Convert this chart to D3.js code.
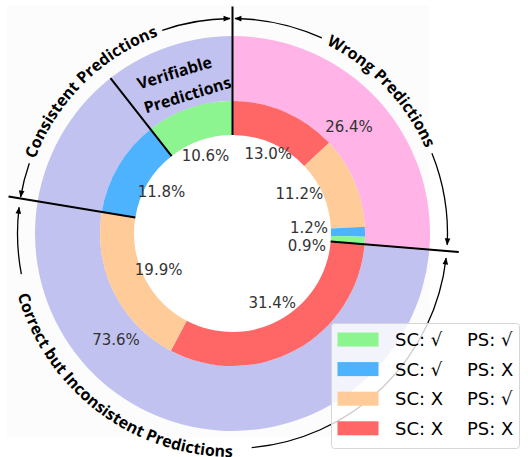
<!DOCTYPE html>
<html>
<head>
<meta charset="utf-8">
<script src="https://cdn.jsdelivr.net/npm/d3@7"></script>
<style>
  html, body { margin: 0; padding: 0; background: #ffffff; }
  svg { display: block; }
</style>
</head>
<body>
<div id="chart"></div>
<script>
// ---------------- data ----------------
const outerCategories = ["Wrong Predictions", "Correct Predictions"];
const outerValues = [26.4, 73.6];
const outerColors = ["#ffb3e6", "#c2c2f0"];

const innerCategories = ["SC: X PS: X", "SC: X PS: √", "SC: √ PS: X", "SC: √ PS: √",
                         "SC: X PS: X", "SC: X PS: √", "SC: √ PS: X", "SC: √ PS: √"];
const innerValues = [13.0, 11.2, 1.2, 0.9, 31.4, 19.9, 11.8, 10.6];

const legendLeft = ["SC: √", "SC: √", "SC: X", "SC: X"];
const legendRight = ["PS: √", "PS: X", "PS: √", "PS: X"];
const legendKeys = ["SC: √ PS: √", "SC: √ PS: X", "SC: X PS: √", "SC: X PS: X"];

const annotationTexts = ["Wrong Predictions", "Consistent Predictions", "Correct but Inconsistent Predictions"];

// ---------------- styles / layout ----------------
const W = 528, H = 457;
const cx = 232.5, cy = 233.5;
const rHole = 98.5, rMid = 132.5, rOuter = 197.5;
const rLineEnd = 227;
const rArrow = 215;

const color = d3.scaleOrdinal()
  .domain(legendKeys)
  .range(["#8cf58f", "#4db3ff", "#ffcc99", "#ff6666"]);
const outerColor = d3.scaleOrdinal().domain(outerCategories).range(outerColors);

const svg = d3.select("#chart").append("svg")
  .attr("width", W).attr("height", H)
  .attr("viewBox", `0 0 ${W} ${H}`);

const defs = svg.append("defs");
defs.append("marker")
  .attr("id", "arrow")
  .attr("viewBox", "0 0 10 10")
  .attr("refX", 9).attr("refY", 5)
  .attr("markerUnits", "userSpaceOnUse")
  .attr("markerWidth", 8).attr("markerHeight", 7)
  .attr("orient", "auto-start-reverse")
  .append("path").attr("d", "M0,1 L10,5 L0,9 Z").attr("fill", "#000");

svg.append("rect").attr("x", 7).attr("y", 5).attr("width", 423).attr("height", 432)
  .attr("fill", "#fcfcfc");

const g = svg.append("g").attr("transform", `translate(${cx},${cy})`);

const pie = d3.pie().sort(null).value(d => d).startAngle(0).endAngle(2 * Math.PI);
const outerArcs = pie(outerValues);
const innerArcs = pie(innerValues);

const arcOuter = d3.arc().innerRadius(rMid).outerRadius(rOuter);
const arcInner = d3.arc().innerRadius(rHole).outerRadius(rMid);

g.append("circle").attr("r", rHole).attr("fill", "#ffffff");

g.selectAll("path.outer").data(outerArcs).join("path")
  .attr("class", "outer")
  .attr("d", arcOuter)
  .attr("fill", (d, i) => outerColor(outerCategories[i]));

g.selectAll("path.inner").data(innerArcs).join("path")
  .attr("class", "inner")
  .attr("d", arcInner)
  .attr("fill", (d, i) => color(innerCategories[i]));

// ---------------- percentage labels ----------------
const pt = (a, r) => [r * Math.sin(a), -r * Math.cos(a)];
const innerLabelR = 82.5, outerLabelR = 158;
const innerNudge = [[3, -4], [-9, -7], [-6, -4], [-8, 8], [0, -3], [0, 0], [0, 0], [0, 0]];
const labelFont = "'DejaVu Sans', sans-serif";

g.selectAll("text.inlab").data(innerArcs).join("text")
  .attr("class", "inlab")
  .attr("x", (d, i) => pt((d.startAngle + d.endAngle) / 2, innerLabelR)[0] + innerNudge[i][0])
  .attr("y", (d, i) => pt((d.startAngle + d.endAngle) / 2, innerLabelR)[1] + innerNudge[i][1])
  .attr("text-anchor", "middle")
  .attr("dominant-baseline", "central")
  .attr("font-family", labelFont)
  .attr("font-size", 15)
  .attr("fill", "#333")
  .text(d => d.data.toFixed(1) + "%");

g.selectAll("text.outlab").data(outerArcs).join("text")
  .attr("class", "outlab")
  .attr("x", d => pt((d.startAngle + d.endAngle) / 2, outerLabelR)[0])
  .attr("y", d => pt((d.startAngle + d.endAngle) / 2, outerLabelR)[1])
  .attr("text-anchor", "middle")
  .attr("dominant-baseline", "central")
  .attr("font-family", labelFont)
  .attr("font-size", 15)
  .attr("fill", "#333")
  .text(d => d.data.toFixed(1) + "%");

// ---------------- separator lines ----------------
const bWrongStart = innerArcs[0].startAngle;          // top
const bWrongEnd = innerArcs[3].endAngle;              // after 0.9%
const bConsStart = innerArcs[6].startAngle;           // before 11.8%
const bVerStart = innerArcs[7].startAngle;            // before 10.6%
const seps = [[bWrongStart, rLineEnd], [bWrongEnd, rLineEnd], [bConsStart, rLineEnd], [bVerStart, rOuter]];
g.selectAll("line.sep").data(seps).join("line")
  .attr("class", "sep")
  .attr("x1", d => pt(d[0], rHole)[0]).attr("y1", d => pt(d[0], rHole)[1])
  .attr("x2", d => pt(d[0], d[1])[0]).attr("y2", d => pt(d[0], d[1])[1])
  .attr("stroke", "#000").attr("stroke-width", 2);

// ---------------- annotation arcs with curved text ----------------
const deg = Math.PI / 180;
const annFont = "'Open Sans', sans-serif";
const annSize = 16;
const anns = [
  { text: annotationTexts[0], a0: bWrongStart + 0.7 * deg, a1: bWrongEnd - 1.7 * deg, mid: 46.3 * deg, flip: false, pad: 2.4 * deg },
  { text: annotationTexts[1], a0: bConsStart + 0.4 * deg, a1: 2 * Math.PI - 0.7 * deg, mid: 315 * deg, flip: false, pad: 2.2 * deg },
  { text: annotationTexts[2], a0: bWrongEnd + 1.9 * deg, a1: bConsStart - 2.4 * deg, mid: 217 * deg, flip: true, pad: 4 * deg }
];

function arcPath(a0, a1, r, ccw) {
  const p = d3.path();
  const s = pt(a0, r);
  p.moveTo(s[0], s[1]);
  p.arc(0, 0, r, a0 - Math.PI / 2, a1 - Math.PI / 2, ccw);
  return p.toString();
}

anns.forEach((a, i) => {
  const rText = a.flip ? 223.5 : 211;
  const id = "tp" + i;
  const pathD = a.flip
    ? arcPath(a.mid + Math.PI * 0.9, a.mid - Math.PI * 0.9, rText, true)
    : arcPath(a.mid - Math.PI * 0.9, a.mid + Math.PI * 0.9, rText, false);
  defs.append("path").attr("id", id).attr("d", pathD).attr("transform", `translate(${cx},${cy})`);
  const t = svg.append("text")
    .attr("font-family", annFont)
    .attr("font-weight", "bold")
    .attr("font-size", annSize)
    .attr("fill", "#000");
  t.append("textPath")
    .attr("href", "#" + id)
    .attr("startOffset", "50%")
    .attr("text-anchor", "middle")
    .text(a.text);
  const len = t.node().getComputedTextLength();
  const half = len / 2 / 217 + a.pad;
  g.append("path")
    .attr("d", arcPath(a.a0, a.mid - half, rArrow, false))
    .attr("fill", "none").attr("stroke", "#000").attr("stroke-width", 1.3)
    .attr("marker-start", "url(#arrow)");
  g.append("path")
    .attr("d", arcPath(a.mid + half, a.a1, rArrow, false))
    .attr("fill", "none").attr("stroke", "#000").attr("stroke-width", 1.3)
    .attr("marker-end", "url(#arrow)");
});

// Verifiable Predictions label
const vp = svg.append("text")
  .attr("transform", "translate(181,84) rotate(-17)")
  .attr("font-family", annFont)
  .attr("font-weight", "bold")
  .attr("font-size", annSize)
  .attr("fill", "#000")
  .attr("text-anchor", "middle");
vp.append("tspan").attr("x", -3).attr("y", -7).text("Verifiable");
vp.append("tspan").attr("x", 3).attr("y", 18).text("Predictions");

// ---------------- legend ----------------
const lg = svg.append("g").attr("transform", "translate(331,323)");
lg.append("rect").attr("x", 0.5).attr("y", 0.5).attr("width", 188).attr("height", 125)
  .attr("rx", 3).attr("fill", "#ffffff").attr("fill-opacity", 0.8)
  .attr("stroke", "#d6d6d6").attr("stroke-width", 1);
const rows = lg.selectAll("g.row").data(legendKeys).join("g")
  .attr("class", "row")
  .attr("transform", (d, i) => `translate(0,${16.5 + i * 29.6})`);
rows.append("rect").attr("x", 6.5).attr("y", -7).attr("width", 41).attr("height", 14)
  .attr("fill", d => color(d));
rows.append("text").attr("x", 64).attr("y", 6.5)
  .attr("font-family", labelFont).attr("font-size", 18).attr("fill", "#000")
  .text((d, i) => legendLeft[i]);
rows.append("text").attr("x", 136).attr("y", 6.5)
  .attr("font-family", labelFont).attr("font-size", 18).attr("fill", "#000")
  .text((d, i) => legendRight[i]);
</script>
</body>
</html>
